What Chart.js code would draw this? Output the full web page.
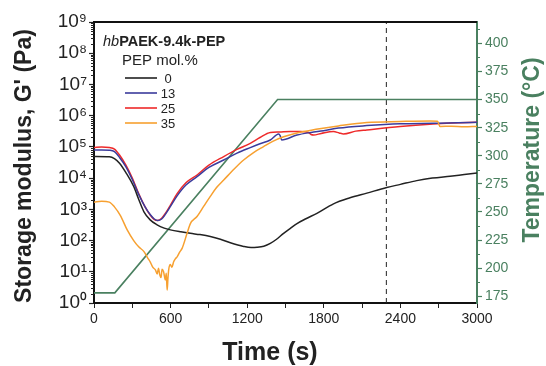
<!DOCTYPE html>
<html>
<head>
<meta charset="utf-8">
<script src="https://cdn.jsdelivr.net/npm/chart.js@4/dist/chart.umd.min.js"></script>
<style>
  html, body { margin: 0; padding: 0; background: #fff; }
  #wrap { width: 546px; height: 366px; position: relative; }
</style>
</head>
<body>
<div id="wrap"><canvas id="grafico"></canvas></div>
<script>
// tempo (s) e G' (Pa)
const tempo0  = [0, 120, 160, 200, 250, 311, 350, 390, 440, 494, 550, 598, 680, 755, 830, 911, 990, 1068, 1172, 1230, 1277, 1330, 1381, 1430, 1485, 1540, 1590, 1660, 1746, 1876, 2000, 2137, 2293, 2400, 2528, 2650, 2789, 2900, 3000];
const gLinha0 = [4.9e4, 4.8e4, 4.2e4, 3.0e4, 1.5e4, 5.4e3, 2.1e3, 8.5e2, 4.6e2, 3.2e2, 2.5e2, 2.2e2, 1.9e2, 1.7e2, 1.55e2, 1.35e2, 1.1e2, 8.5e1, 6.5e1, 6.0e1, 6.1e1, 6.6e1, 8.1e1, 1.1e2, 1.7e2, 2.5e2, 3.5e2, 5.0e2, 7.4e2, 1.5e3, 2.3e3, 3.3e3, 5.0e3, 6.3e3, 8.3e3, 1.0e4, 1.15e4, 1.3e4, 1.45e4];

const tempo13  = [0, 60, 120, 160, 200, 250, 300, 350, 400, 440, 470, 500, 530, 560, 600, 651, 720, 807, 900, 1016, 1120, 1224, 1300, 1381, 1446, 1458, 1470, 1590, 1700, 1798, 1915, 2137, 2398, 2656, 2850, 3000];
const gLinha13 = [8.0e4, 8.0e4, 7.8e4, 7.0e4, 4.6e4, 2.3e4, 9.0e3, 3.0e3, 1.2e3, 6.8e2, 5.0e2, 4.4e2, 4.9e2, 7.0e2, 1.26e3, 2.7e3, 6.0e3, 1.12e4, 2.2e4, 3.8e4, 6.3e4, 9.5e4, 1.26e5, 1.66e5, 2.6e5, 2.3e5, 1.66e5, 2.4e5, 2.9e5, 3.3e5, 4.0e5, 4.8e5, 5.5e5, 5.7e5, 5.9e5, 6.2e5];

const tempo25  = [0, 60, 120, 160, 200, 250, 300, 350, 400, 440, 470, 500, 530, 560, 600, 651, 720, 807, 900, 1016, 1120, 1224, 1300, 1381, 1450, 1537, 1615, 1680, 1700, 1720, 1780, 1876, 1920, 1954, 2050, 2137, 2398, 2656, 2800, 3000];
const gLinha25 = [9.5e4, 1.0e5, 9.5e4, 8.5e4, 5.5e4, 2.6e4, 1.0e4, 3.2e3, 1.2e3, 6.6e2, 4.8e2, 4.4e2, 5.2e2, 7.5e2, 1.4e3, 3.2e3, 7.1e3, 1.26e4, 2.6e4, 4.9e4, 8.3e4, 1.3e5, 2.0e5, 2.9e5, 3.0e5, 3.1e5, 3.1e5, 2.9e5, 2.5e5, 2.4e5, 2.7e5, 3.1e5, 2.8e5, 2.6e5, 3.2e5, 3.5e5, 4.5e5, 5.4e5, 5.8e5, 6.2e5];

const tempo35  = [0, 60, 120, 160, 207, 260, 311, 350, 390, 420, 442, 460, 481, 495, 505, 515, 525, 533, 545, 559, 566, 573, 579, 585, 598, 610, 624, 637, 651, 670, 690, 729, 755, 807, 860, 911, 960, 1016, 1100, 1172, 1250, 1328, 1400, 1485, 1560, 1642, 1780, 1915, 2137, 2398, 2633, 2690, 2711, 2800, 2900, 3000];
const gLinha35 = [1.7e3, 1.8e3, 1.7e3, 1.2e3, 6.3e2, 2.2e2, 1.0e2, 6.3e1, 4.5e1, 2.8e1, 2.0e1, 1.4e1, 1.15e1, 8.5e0, 1.3e1, 8.0e0, 6.5e0, 1.2e1, 1.0e1, 5.5e0, 9.0e0, 2.6e0, 6.0e0, 1.15e1, 1.7e1, 1.4e1, 2.1e1, 2.6e1, 3.0e1, 4.2e1, 5.6e1, 1.7e2, 3.5e2, 5.9e2, 1.26e3, 2.6e3, 5.0e3, 8.7e3, 2.0e4, 3.8e4, 6.6e4, 1.02e5, 1.5e5, 2.1e5, 2.6e5, 3.1e5, 3.9e5, 4.7e5, 6.0e5, 6.5e5, 6.8e5, 6.6e5, 4.5e5, 4.6e5, 4.4e5, 4.5e5];

// rampa de temperatura (°C)
const tempoT = [0, 163, 1438, 3000];
const temperatura = [178, 178, 350, 350];

const tempoTracejado = 2290;

const rotulosLegenda = ['0', '13', '25', '35'];
const coresSeries = ['#222222', '#3b3b9c', '#ee2a2a', '#f7a030'];
const verde = '#4a8060';

const ticksX = [0, 300, 600, 900, 1200, 1500, 1800, 2100, 2400, 2700, 3000];
const ticksG = [1, 10, 100, 1e3, 1e4, 1e5, 1e6, 1e7, 1e8, 1e9];
const ticksTemp = [175, 200, 225, 250, 275, 300, 325, 350, 375, 400];

const sup = ['⁰', '¹', '²', '³', '⁴', '⁵', '⁶', '⁷', '⁸', '⁹'];
const fonte = '"Liberation Sans", Arial, sans-serif';

const pares = (xs, ys) => xs.map((x, i) => ({ x: x, y: ys[i] }));

const series = [
    pares(tempo0, gLinha0),
    pares(tempo13, gLinha13),
    pares(tempo25, gLinha25),
    pares(tempo35, gLinha35)
];

const datasets = [];
// ordem de desenho: laranja, preto, azul, vermelho
[3, 0, 1, 2].forEach(i => {
    datasets.push({
        label: rotulosLegenda[i],
        data: series[i],
        borderColor: coresSeries[i],
        borderWidth: 1.5,
        pointRadius: 0,
        cubicInterpolationMode: 'monotone',
        yAxisID: 'y'
    });
});
datasets.push({
    label: 'Temperatura',
    data: pares(tempoT, temperatura),
    borderColor: verde,
    borderWidth: 1.6,
    pointRadius: 0,
    tension: 0,
    yAxisID: 'y2'
});
datasets.push({
    label: 'tracejado',
    data: [{ x: tempoTracejado, y: 1 }, { x: tempoTracejado, y: 1e9 }],
    borderColor: '#222',
    borderWidth: 1,
    borderDash: [5, 4],
    pointRadius: 0,
    yAxisID: 'y'
});

// ticks menores, moldura, títulos e legenda
const extras = {
    id: 'extras',
    afterDraw(chart) {
        const c = chart.ctx;
        const a = chart.chartArea;
        const y = chart.scales.y;
        const y2 = chart.scales.y2;
        c.save();

        // ticks menores do eixo log
        c.strokeStyle = '#222';
        c.lineWidth = 1;
        for (let e = 0; e < 9; e++) {
            for (let m = 2; m <= 9; m++) {
                const py = Math.round(y.getPixelForValue(m * Math.pow(10, e))) + 0.5;
                c.beginPath();
                c.moveTo(a.left - 3, py);
                c.lineTo(a.left, py);
                c.stroke();
            }
        }
        // ticks menores da temperatura
        c.strokeStyle = verde;
        for (let t = 187.5; t < 419; t += 25) {
            const py = Math.round(y2.getPixelForValue(t)) + 0.5;
            c.beginPath();
            c.moveTo(a.right, py);
            c.lineTo(a.right + 3, py);
            c.stroke();
        }

        // borda superior
        c.strokeStyle = '#111';
        c.lineWidth = 2;
        c.beginPath();
        c.moveTo(a.left - 1, a.top);
        c.lineTo(a.right, a.top);
        c.stroke();

        // títulos dos eixos
        c.fillStyle = '#222';
        c.font = 'bold 23px ' + fonte;
        c.textAlign = 'center';
        c.textBaseline = 'middle';
        c.save();
        c.translate(25, 166);
        c.rotate(-Math.PI / 2);
        c.fillText("Storage modulus, G' (Pa)", 0, 0);
        c.restore();

        c.fillStyle = verde;
        c.save();
        c.translate(533, 150);
        c.rotate(-Math.PI / 2);
        c.fillText('Temperature (°C)', 0, 0);
        c.restore();

        c.fillStyle = '#222';
        c.font = 'bold 25px ' + fonte;
        c.fillText('Time (s)', 270, 353);

        // legenda
        c.textAlign = 'left';
        c.textBaseline = 'alphabetic';
        c.font = 'italic 14.5px ' + fonte;
        c.fillText('hb', 103, 46);
        const w = c.measureText('hb').width;
        c.font = 'bold 14.5px ' + fonte;
        c.fillText('PAEK-9.4k-PEP', 103 + w, 46);
        c.font = '15px ' + fonte;
        c.fillText('PEP mol.%', 122, 65);

        c.font = '13px ' + fonte;
        c.textAlign = 'center';
        c.textBaseline = 'middle';
        rotulosLegenda.forEach((r, i) => {
            const ly = 78 + i * 15;
            c.strokeStyle = coresSeries[i];
            c.lineWidth = 1.6;
            c.beginPath();
            c.moveTo(125, ly);
            c.lineTo(157, ly);
            c.stroke();
            c.fillStyle = '#222';
            c.fillText(r, 168, ly + 1);
        });
        c.restore();
    }
};

const ctx = document.getElementById('grafico').getContext('2d');

const grafico = new Chart(ctx, {
    type: 'line',
    data: { datasets: datasets },
    options: {
        responsive: true,
        maintainAspectRatio: false,
        animation: false,
        layout: { padding: { top: 22, left: 0, right: 0, bottom: 0 } },
        plugins: {
            legend: { display: false },
            tooltip: { enabled: false }
        },
        scales: {
            x: {
                type: 'linear',
                min: 0,
                max: 3000,
                afterFit: s => { s.height = 63; },
                afterBuildTicks: s => { s.ticks = ticksX.map(v => ({ value: v })); },
                grid: { drawOnChartArea: false, tickLength: 5, tickColor: '#222', tickWidth: 1 },
                border: { color: '#111', width: 2 },
                ticks: {
                    color: '#222',
                    font: { family: fonte, size: 14 },
                    padding: 3,
                    maxRotation: 0,
                    autoSkip: false,
                    callback: v => (v % 600 === 0 ? String(v) : '')
                }
            },
            y: {
                type: 'logarithmic',
                position: 'left',
                min: 1,
                max: 1e9,
                afterFit: s => { s.width = 94; },
                afterBuildTicks: s => { s.ticks = ticksG.map(v => ({ value: v })); },
                grid: { drawOnChartArea: false, tickLength: 5, tickColor: '#222', tickWidth: 1.2 },
                border: { color: '#111', width: 2 },
                ticks: {
                    color: '#222',
                    font: { family: fonte, size: 19 },
                    padding: 2,
                    autoSkip: false,
                    callback: v => '10' + sup[Math.round(Math.log10(v))]
                }
            },
            y2: {
                type: 'linear',
                position: 'right',
                min: 169,
                max: 419,
                afterFit: s => { s.width = 69; },
                afterBuildTicks: s => { s.ticks = ticksTemp.map(v => ({ value: v })); },
                grid: { drawOnChartArea: false, tickLength: 5, tickColor: verde, tickWidth: 1.2 },
                border: { color: verde, width: 2 },
                ticks: {
                    color: verde,
                    font: { family: fonte, size: 14 },
                    padding: 3,
                    autoSkip: false,
                    callback: v => String(v)
                }
            }
        }
    },
    plugins: [extras]
});
</script>
</body>
</html>
